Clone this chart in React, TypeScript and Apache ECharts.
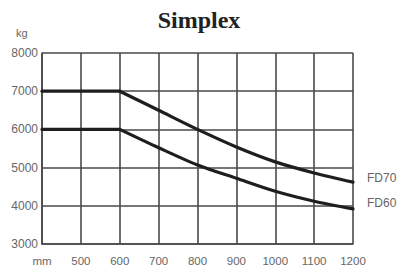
import React, { useEffect, useRef } from "react";
import * as echarts from "echarts";

const widths = [400, 500, 600, 700, 800, 900, 1000, 1100, 1200];
const fd70 = [7000, 7000, 7000, 6500, 6000, 5540, 5150, 4860, 4620];
const fd60 = [6000, 6000, 6000, 5520, 5070, 4720, 4380, 4120, 3920];
const seriesNames = ["FD70", "FD60"];
const kneeIndex = 2;

export default function App() {
  const ref = useRef<HTMLDivElement>(null);
  useEffect(() => {
    const chart = echarts.init(ref.current!, null, { renderer: "svg" });
    const gridColor = "#4a4a4a";
    const labelColor = "#666";
    const lineStyle = { color: "#1e1e1e", width: 3.2, cap: "round", join: "round" };
    const mk = (name: string, vals: number[], off: number[]) => {
      const pts = widths.map((w, i) => [w, vals[i]]);
      return [
        {
          name: name + "-flat",
          type: "line",
          data: pts.slice(0, kneeIndex + 1),
          showSymbol: false,
          symbol: "none",
          lineStyle,
        },
        {
          name,
          type: "line",
          data: pts.slice(kneeIndex),
          smooth: 0.3,
          showSymbol: false,
          symbol: "none",
          lineStyle,
          endLabel: {
            show: true,
            formatter: name,
            color: labelColor,
            fontFamily: "Liberation Sans, Arial, sans-serif",
            fontSize: 12,
            offset: off,
          },
        },
      ];
    };
    chart.setOption({
      animation: false,
      backgroundColor: "#fff",
      title: {
        text: "Simplex",
        left: "center",
        top: 3,
        textStyle: {
          fontFamily: "Liberation Serif, Times New Roman, serif",
          fontWeight: "bold",
          fontSize: 24,
          color: "#222",
        },
      },
      grid: { left: 42, right: 45, top: 53, bottom: 29, containLabel: false },
      xAxis: {
        type: "value",
        min: 400,
        max: 1200,
        interval: 100,
        axisLine: { show: true, lineStyle: { color: gridColor, width: 1.6 } },
        axisTick: { show: false },
        splitLine: { show: true, lineStyle: { color: gridColor, width: 1.6 } },
        axisLabel: {
          color: labelColor,
          fontFamily: "Liberation Sans, Arial, sans-serif",
          fontSize: 11.5,
          margin: 11,
          showMaxLabel: true,
          formatter: (v: number) => (v === 400 ? "mm" : String(v)),
        },
      },
      yAxis: {
        type: "value",
        min: 3000,
        max: 8000,
        interval: 1000,
        axisLine: { show: true, lineStyle: { color: gridColor, width: 1.6 } },
        axisTick: { show: false },
        splitLine: { show: true, lineStyle: { color: gridColor, width: 1.6 } },
        axisLabel: {
          color: labelColor,
          fontFamily: "Liberation Sans, Arial, sans-serif",
          fontSize: 12,
          margin: 4,
          formatter: (v: number) => String(v),
        },
      },
      graphic: [
        {
          type: "text",
          left: 16,
          top: 27,
          style: {
            text: "kg",
            fill: labelColor,
            font: "11px Liberation Sans, Arial, sans-serif",
          },
        },
      ],
      series: [
        ...mk(seriesNames[0], fd70, [6, -4]),
        ...mk(seriesNames[1], fd60, [6, -6]),
      ],
    });
    return () => chart.dispose();
  }, []);
  return <div ref={ref} style={{ width: 398, height: 273, position: "absolute", left: 0, top: 0 }} />;
}
